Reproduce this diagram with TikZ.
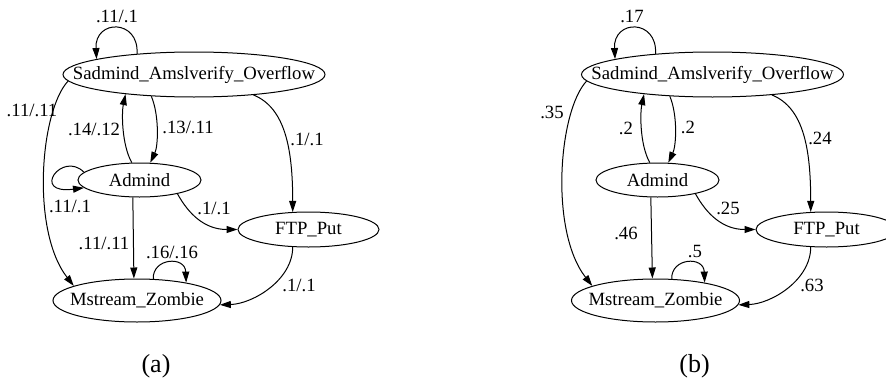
\documentclass[tikz,border=0pt]{standalone}
\usepackage{fontspec}
\setmainfont{Liberation Serif}
\usetikzlibrary{arrows.meta,shapes.geometric}

\begin{document}
\begin{tikzpicture}[x=1pt, y=-1pt, font=\fontsize{18.7}{22}\selectfont,
    state/.style={draw, ellipse, line width=1pt, inner sep=0pt},
    edge/.style={-{Triangle[length=11pt,width=7pt]}, line width=1pt},
    lbl/.style={inner sep=0pt},
    caption/.style={inner sep=0pt, font=\fontsize{26}{30}\selectfont}]
    \useasboundingbox (0,0) rectangle (886,380);

    % Left graph: states
    \node[state, minimum width=262pt, minimum height=45pt, label=center:Sadmind\_Amslverify\_Overflow] (sadA) at (194,74.5) {};
    \node[state, minimum width=123pt, minimum height=34pt, label=center:Admind] (admA) at (139.5,180) {};
    \node[state, minimum width=141pt, minimum height=35pt, label=center:FTP\_Put] (ftpA) at (308.5,229.5) {};
    \node[state, minimum width=168pt, minimum height=43pt, label=center:Mstream\_Zombie] (mzA) at (137,300.5) {};

    % Left graph: transitions
    \draw[edge] (sadA.160) .. controls +(2,-35) and +(-2,-40) .. (sadA.171);
    \draw[edge] (sadA.183) .. controls +(-28,30) and +(-43,-55) .. (mzA.167);
    \draw[edge] (admA.114) .. controls +(-10,-18) and +(-4,19) .. (sadA.196);
    \draw[edge] (sadA.207) .. controls +(8,19) and +(8,-17) .. (admA.58);
    \draw[edge] (sadA.341) .. controls +(32,13) and +(0,-62) .. (ftpA.132);
    \draw[edge] (admA.172) .. controls +(-22,-22) and +(-54,7) .. (admA.188);
    \draw[edge] (admA.340) .. controls +(11,20) and +(-33,0) .. (ftpA.180);
    \draw[edge] (admA.249) -- (mzA.98);
    \draw[edge] (mzA.53) .. controls +(-1,-21) and +(-1,-27) .. (mzA.20);
    \draw[edge] (ftpA.228) .. controls +(0,33) and +(33,-1) .. (mzA.357);

    % Left graph: labels
    \node[lbl] (l1A) at (117,16) {.11/.1};
    \node[lbl] (l2A) at (32,110) {.11/.11};
    \node[lbl] (l3A) at (94,129) {.14/.12};
    \node[lbl] (l4A) at (188,127) {.13/.11};
    \node[lbl] (l5A) at (307,139) {.1/.1};
    \node[lbl] (l6A) at (70,206) {.11/.1};
    \node[lbl] (l7A) at (214,208) {.1/.1};
    \node[lbl] (l8A) at (104,243) {.11/.11};
    \node[lbl] (l9A) at (172,252) {.16/.16};
    \node[lbl] (l10A) at (299,285) {.1/.1};

    % Right graph: states
    \node[state, minimum width=262pt, minimum height=45pt, label=center:Sadmind\_Amslverify\_Overflow] (sadB) at (712.5,74.5) {};
    \node[state, minimum width=123pt, minimum height=34pt, label=center:Admind] (admB) at (657.5,180) {};
    \node[state, minimum width=141pt, minimum height=35pt, label=center:FTP\_Put] (ftpB) at (826.5,229.5) {};
    \node[state, minimum width=168pt, minimum height=43pt, label=center:Mstream\_Zombie] (mzB) at (655.5,300.5) {};

    % Right graph: transitions
    \draw[edge] (sadB.160) .. controls +(2,-35) and +(-2,-40) .. (sadB.171);
    \draw[edge] (sadB.183) .. controls +(-28,30) and +(-43,-55) .. (mzB.167);
    \draw[edge] (admB.114) .. controls +(-10,-18) and +(-4,19) .. (sadB.196);
    \draw[edge] (sadB.207) .. controls +(8,19) and +(8,-17) .. (admB.58);
    \draw[edge] (sadB.341) .. controls +(32,13) and +(0,-62) .. (ftpB.132);
    \draw[edge] (admB.340) .. controls +(11,20) and +(-33,0) .. (ftpB.180);
    \draw[edge] (admB.249) -- (mzB.98);
    \draw[edge] (mzB.53) .. controls +(-1,-21) and +(-1,-27) .. (mzB.20);
    \draw[edge] (ftpB.228) .. controls +(0,33) and +(33,-1) .. (mzB.357);

    % Right graph: labels
    \node[lbl] (l1B) at (632,16) {.17};
    \node[lbl] (l2B) at (552,112) {.35};
    \node[lbl] (l3B) at (626,128) {.2};
    \node[lbl] (l4B) at (688,127) {.2};
    \node[lbl] (l5B) at (820,138) {.24};
    \node[lbl] (l7B) at (728,208) {.25};
    \node[lbl] (l8B) at (626,233) {.46};
    \node[lbl] (l9B) at (695,252) {.5};
    \node[lbl] (l10B) at (812,285) {.63};

    % Captions
    \node[caption] (capA) at (156,366) {(a)};
    \node[caption] (capB) at (694.5,366) {(b)};
\end{tikzpicture}
\end{document}
